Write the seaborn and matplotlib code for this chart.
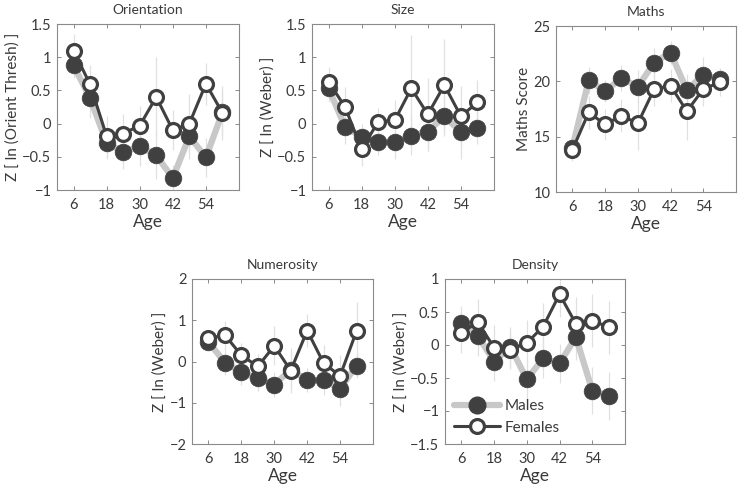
import numpy as np
import pandas as pd
import matplotlib
matplotlib.use("Agg")
import matplotlib.pyplot as plt
import seaborn as sns
from matplotlib.lines import Line2D

sns.set_theme(style="white")
plt.rcParams['font.family'] = ['Lato', 'DejaVu Sans']

ages = [6, 12, 18, 24, 30, 36, 42, 48, 54, 60]

orient_m = [0.88, 0.38, -0.29, -0.43, -0.34, -0.48, -0.82, -0.19, -0.51, 0.17]
orient_f = [1.10, 0.59, -0.19, -0.15, -0.03, 0.40, -0.10, 0.00, 0.60, 0.16]
orient_m_err = [0.2, 0.3, 0.25, 0.25, 0.3, 0.35, 0.2, 0.35, 0.3, 0.35]
orient_f_err = [0.25, 0.3, 0.3, 0.3, 0.3, 0.6, 0.3, 0.45, 0.32, 0.4]

size_m = [0.53, -0.05, -0.20, -0.27, -0.28, -0.18, -0.12, 0.11, -0.13, -0.06]
size_f = [0.63, 0.25, -0.39, 0.03, 0.05, 0.53, 0.14, 0.58, 0.11, 0.32]
size_m_err = [0.2, 0.25, 0.2, 0.2, 0.25, 0.3, 0.3, 0.3, 0.4, 0.25]
size_f_err = [0.22, 0.3, 0.25, 0.2, 0.3, 0.8, 0.55, 0.7, 0.45, 0.33]

maths_m = [14.0, 20.1, 19.1, 20.3, 19.5, 21.7, 22.6, 19.2, 20.6, 20.2]
maths_f = [13.8, 17.2, 16.1, 16.9, 16.2, 19.3, 19.6, 17.3, 19.3, 19.9]
maths_m_err = [1.0, 1.2, 1.0, 1.2, 1.5, 1.3, 1.0, 1.5, 1.6, 1.0]
maths_f_err = [1.0, 1.5, 1.4, 1.5, 2.4, 1.5, 1.5, 2.6, 1.5, 1.2]

numer_m = [0.48, -0.03, -0.26, -0.41, -0.56, -0.20, -0.45, -0.45, -0.66, -0.10]
numer_f = [0.56, 0.64, 0.15, -0.12, 0.38, -0.22, 0.75, -0.04, -0.35, 0.74]
numer_m_err = [0.2, 0.3, 0.3, 0.3, 0.3, 0.4, 0.3, 0.35, 0.43, 0.3]
numer_f_err = [0.2, 0.35, 0.3, 0.3, 0.47, 0.55, 0.4, 0.45, 0.5, 0.7]

dens_m = [0.34, 0.14, -0.25, -0.03, -0.52, -0.20, -0.28, 0.12, -0.69, -0.77]
dens_f = [0.18, 0.35, -0.04, -0.07, 0.03, 0.28, 0.77, 0.32, 0.37, 0.27]
dens_m_err = [0.25, 0.3, 0.3, 0.3, 0.3, 0.3, 0.3, 0.35, 0.35, 0.36]
dens_f_err = [0.3, 0.35, 0.35, 0.3, 0.35, 0.35, 0.35, 0.4, 0.4, 0.4]

titles = ["Orientation", "Size", "Maths", "Numerosity", "Density"]
ylabels = ["Z [ ln (Orient Thresh) ]", "Z [ ln (Weber) ]", "Maths Score",
           "Z [ ln (Weber) ]", "Z [ ln (Weber) ]"]
ylims = [(-1, 1.5), (-1, 1.5), (10, 25), (-2, 2), (-1.5, 1)]
yticks = [[-1, -0.5, 0, 0.5, 1, 1.5], [-1, -0.5, 0, 0.5, 1, 1.5], [10, 15, 20, 25],
          [-2, -1, 0, 1, 2], [-1.5, -1, -0.5, 0, 0.5, 1]]
yticklabels = [["\u22121", "\u22120.5", "0", "0.5", "1", "1.5"],
               ["\u22121", "\u22120.5", "0", "0.5", "1", "1.5"],
               ["10", "15", "20", "25"],
               ["\u22122", "\u22121", "0", "1", "2"],
               ["\u22121.5", "\u22121", "\u22120.5", "0", "0.5", "1"]]
xticks = [6, 18, 30, 42, 54]

series = [(orient_m, orient_f, orient_m_err, orient_f_err),
          (size_m, size_f, size_m_err, size_f_err),
          (maths_m, maths_f, maths_m_err, maths_f_err),
          (numer_m, numer_f, numer_m_err, numer_f_err),
          (dens_m, dens_f, dens_m_err, dens_f_err)]

W, H = 738, 487
boxes_px = [(57, 24, 182, 166), (312, 24, 182, 166), (556, 26, 180, 166),
            (192, 279, 181, 165), (445, 279, 180, 165)]

fig = plt.figure(figsize=(W / 100, H / 100), dpi=100)
dark = "#404040"
light = "#c8c8c8"
txt = "#3a3a3a"
spine = "#8a8a8a"

for i, (l, t, w, h) in enumerate(boxes_px):
    ax = fig.add_axes([l / W, (H - t - h) / H, w / W, h / H])
    m, f, me, fe = series[i]
    df_m = pd.DataFrame({"Age": ages, "val": m, "err": me})
    df_f = pd.DataFrame({"Age": ages, "val": f, "err": fe})
    # error bars
    ax.vlines(df_m["Age"], df_m["val"] - df_m["err"], df_m["val"] + df_m["err"],
              color="#e0e0e0", lw=0.9, zorder=1)
    ax.vlines(df_f["Age"], df_f["val"] - df_f["err"], df_f["val"] + df_f["err"],
              color="#e0e0e0", lw=0.9, zorder=1)
    sns.lineplot(data=df_m, x="Age", y="val", ax=ax, color=light, lw=4.5,
                 marker="o", markersize=12, markerfacecolor=dark,
                 markeredgecolor=dark, markeredgewidth=0.5, zorder=2)
    sns.lineplot(data=df_f, x="Age", y="val", ax=ax, color=dark, lw=2.2,
                 marker="o", markersize=10, markerfacecolor="white",
                 markeredgecolor=dark, markeredgewidth=2.3, zorder=3)
    ax.set_xlim(0, 66)
    ax.set_ylim(*ylims[i])
    ax.set_xticks(xticks)
    ax.set_xticklabels([str(x) for x in xticks])
    ax.set_yticks(yticks[i])
    ax.set_yticklabels(yticklabels[i])
    ax.tick_params(direction="in", length=3, width=0.7, colors=spine,
                   labelcolor=txt, labelsize=10.5, top=True, right=True,
                   bottom=True, left=True, pad=4)
    ax.tick_params(axis="x", pad=6)
    ax.set_xlabel("Age", fontsize=12.5, color=txt, labelpad=1)
    ax.set_ylabel(ylabels[i], fontsize=11, color=txt, labelpad=2)
    ax.set_title(titles[i], fontsize=10, color=txt, pad=7)
    for s in ax.spines.values():
        s.set_color(spine)
        s.set_linewidth(0.8)
    ax.grid(False)
    if i == 4:
        handles = [
            Line2D([], [], color=light, lw=4.5, marker="o", markersize=12,
                   markerfacecolor=dark, markeredgecolor=dark),
            Line2D([], [], color=dark, lw=2.2, marker="o", markersize=10,
                   markerfacecolor="white", markeredgecolor=dark,
                   markeredgewidth=2.3),
        ]
        leg = ax.legend(handles, ["Males", "Females"], loc="lower left",
                        frameon=False, fontsize=11, handlelength=3.0,
                        borderaxespad=0.2, labelspacing=0.5, handletextpad=0.3)
        for tx in leg.get_texts():
            tx.set_color(txt)
    else:
        if ax.get_legend():
            ax.get_legend().remove()

fig.savefig("out.png", dpi=100)
